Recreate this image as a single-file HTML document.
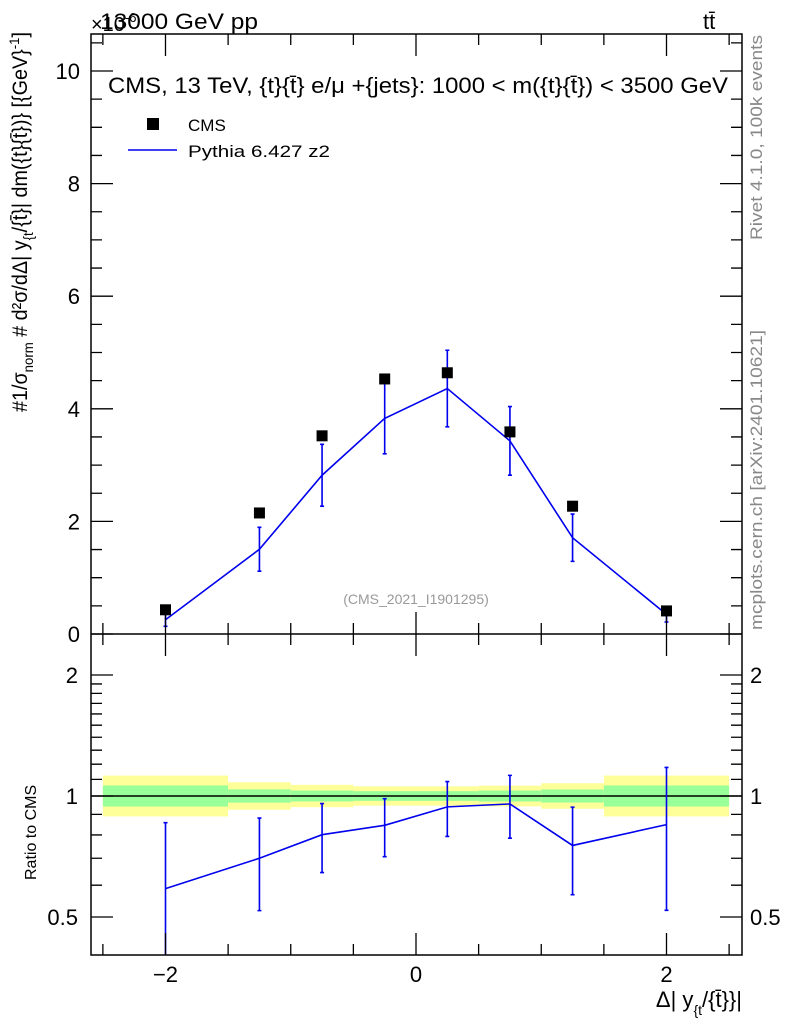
<!DOCTYPE html>
<html><head><meta charset="utf-8"><style>
body{margin:0;background:#fff}
svg{display:block;font-family:"Liberation Sans",sans-serif}
</style></head><body>
<svg id="chart" width="786" height="1024" viewBox="0 0 786 1024">
<g id="bands"></g>
<g id="marks"></g>
<g id="axes"></g>
<text x="100" y="29" font-size="22" textLength="158" lengthAdjust="spacingAndGlyphs">13000 GeV pp</text>
<text x="91" y="31" font-size="20">×10<tspan dy="-9" font-size="13">-6</tspan></text>
<text x="703" y="29" font-size="22">tt̄</text>
<text x="108" y="93" font-size="22" textLength="620" lengthAdjust="spacingAndGlyphs">CMS, 13 TeV, {t}{t̄} e/μ +{jets}: 1000 &lt; m({t}{t̄}) &lt; 3500 GeV</text>
<rect x="147" y="118" width="12" height="12" fill="#000"/>
<text x="188" y="131" font-size="17">CMS</text>
<line x1="128" y1="150" x2="177" y2="150" stroke="#0000ee" stroke-width="1.5"/>
<text x="188" y="157" font-size="17" textLength="142" lengthAdjust="spacingAndGlyphs">Pythia 6.427 z2</text>
<text x="416" y="604" font-size="14" fill="#999" text-anchor="middle">(CMS_2021_I1901295)</text>
<text transform="translate(762,240) rotate(-90)" font-size="17" fill="#888" textLength="205" lengthAdjust="spacingAndGlyphs">Rivet 4.1.0,  100k events</text>
<text transform="translate(762,630) rotate(-90)" font-size="17" fill="#888" textLength="300" lengthAdjust="spacingAndGlyphs">mcplots.cern.ch [arXiv:2401.10621]</text>
<text transform="translate(27,412) rotate(-90)" font-size="21" textLength="380" lengthAdjust="spacingAndGlyphs">#<tspan>1/σ</tspan><tspan dy="6" font-size="14">norm</tspan><tspan dy="-6"> # d²σ/dΔ| y</tspan><tspan dy="6" font-size="14">{t</tspan><tspan dy="-6">/{t̄}| dm({t}{t̄})} [{GeV}</tspan><tspan dy="-8" font-size="14">-1</tspan><tspan dy="8">]</tspan></text>
<text transform="translate(36,880) rotate(-90)" font-size="16">Ratio to CMS</text>
<text x="742" y="1007" font-size="22" text-anchor="end">Δ| y<tspan dy="8" font-size="14">{t</tspan><tspan dy="-8">/{t̄}}|</tspan></text>
</svg>
<script>
const xCenters=[-2,-1.25,-0.75,-0.25,0.25,0.75,1.25,2];
const binEdges=[-2.5,-1.5,-1,-0.5,0,0.5,1,1.5,2.5];
const cmsValues=[0.43,2.15,3.52,4.53,4.64,3.59,2.27,0.41];
const mcValues=[0.253,1.505,2.82,3.83,4.36,3.43,1.71,0.348];
const mcErrors=[0.116,0.39,0.55,0.63,0.68,0.61,0.42,0.135];
const totalBand=[0.124,0.082,0.066,0.057,0.057,0.061,0.076,0.124];
const statBand=[0.062,0.039,0.032,0.028,0.028,0.032,0.038,0.062];
const yTicks=[0,2,4,6,8,10];
const xTickLabels=[-2,0,2];
const ratioTickLabels=[0.5,1,2];

const NS="http://www.w3.org/2000/svg";
const L=91,R=742,T=34,M=634,B=955;
const X=v=>416+v*125.25;
const Y=v=>M-v*(M-71)/10;
const RY=r=>796-Math.log10(r)*402;
function mk(p,tag,a){const e=document.createElementNS(NS,tag);for(const k in a)e.setAttribute(k,a[k]);document.getElementById(p).appendChild(e);return e;}

for(let i=0;i<totalBand.length;i++){
  const x1=X(binEdges[i]),x2=X(binEdges[i+1]);
  let e=mk('bands','rect',{x:x1,width:x2-x1,y:RY(1+totalBand[i]),height:RY(1/(1+totalBand[i]))-RY(1+totalBand[i]),fill:'#ffff99'});
  
  
  e=mk('bands','rect',{x:x1,width:x2-x1,y:RY(1+statBand[i]),height:RY(1/(1+statBand[i]))-RY(1+statBand[i]),fill:'#99ff99'});
  
  
}
let l=mk('bands','line',{x1:L,x2:R,y1:RY(1),y2:RY(1),stroke:'#000','stroke-width':1.5});



const clampR=v=>Math.min(B,Math.max(M,v));
let pts=xCenters.map((x,i)=>X(x)+','+Y(mcValues[i])).join(' ');
let pl=mk('marks','polyline',{points:pts,fill:'none',stroke:'#0000ee','stroke-width':1.6});


let rpts=xCenters.map((x,i)=>X(x)+','+clampR(RY(mcValues[i]/cmsValues[i]))).join(' ');
pl=mk('marks','polyline',{points:rpts,fill:'none',stroke:'#0000ee','stroke-width':1.6});


xCenters.forEach((x,i)=>{
  const cx=X(x);
  let y1=Y(mcValues[i]+mcErrors[i]),y2=Y(Math.max(0,mcValues[i]-mcErrors[i]));
  let e=mk('marks','path',{d:`M${cx},${y1}V${y2}M${cx-2},${y1}h4M${cx-2},${y2}h4`,stroke:'#0000ee','stroke-width':1.6,fill:'none'});
  
  
  const r=mcValues[i]/cmsValues[i],er=mcErrors[i]/cmsValues[i];
  let ry1=clampR(RY(r+er)),ry2=r-er>0?clampR(RY(r-er)):B;
  e=mk('marks','path',{d:`M${cx},${ry1}V${ry2}M${cx-2},${ry1}h4`+(ry2<B?`M${cx-2},${ry2}h4`:''),stroke:'#0000ee','stroke-width':1.6,fill:'none'});
  
  
  e=mk('marks','rect',{x:cx-5.5,y:Y(cmsValues[i])-5.5,width:11,height:11,fill:'#000'});
  
  
});

let f=mk('axes','rect',{x:L,y:T,width:R-L,height:B-T,fill:'none',stroke:'#000','stroke-width':1.5});


l=mk('axes','line',{x1:L,x2:R,y1:M,y2:M,stroke:'#000','stroke-width':1.5});


let d='';
for(let v=0;v<=10.5;v+=0.5){const y=Y(v),len=(v%2===0)?22:11;d+=`M${L},${y}h${len}M${R},${y}h${-len}`;}
for(let v=-2.5;v<=2.5001;v+=0.5){const x=X(v),len=(Math.abs(v-Math.round(v/2)*2)<1e-6)?22:11;d+=`M${x},${T}v${len}M${x},${M}v${-len}M${x},${M}v${len}M${x},${B}v${-len}`;}
[0.5,1,2].forEach(r=>{const y=RY(r);d+=`M${L},${y}h22M${R},${y}h-22`;});
[0.6,0.7,0.8,0.9,1.1,1.2,1.3,1.4,1.5,1.6,1.7,1.8,1.9].forEach(r=>{const y=RY(r);d+=`M${L},${y}h11M${R},${y}h-11`;});
let tk=mk('axes','path',{d:d,stroke:'#000','stroke-width':1.3,fill:'none'});


yTicks.forEach(v=>{const t=mk('axes','text',{x:80,y:Y(v)+8,'font-size':22,'text-anchor':'end'});t.textContent=v;
  
  });
xTickLabels.forEach(v=>{const t=mk('axes','text',{x:X(v),y:982,'font-size':22,'text-anchor':'middle'});t.textContent=v<0?'−'+(-v):v;
  
  });
ratioTickLabels.forEach(v=>{let t=mk('axes','text',{x:78,y:RY(v)+8,'font-size':22,'text-anchor':'end'});t.textContent=v;
  
  
  t=mk('axes','text',{x:750,y:RY(v)+8,'font-size':22});t.textContent=v;
  
  });
</script>
</body></html>
